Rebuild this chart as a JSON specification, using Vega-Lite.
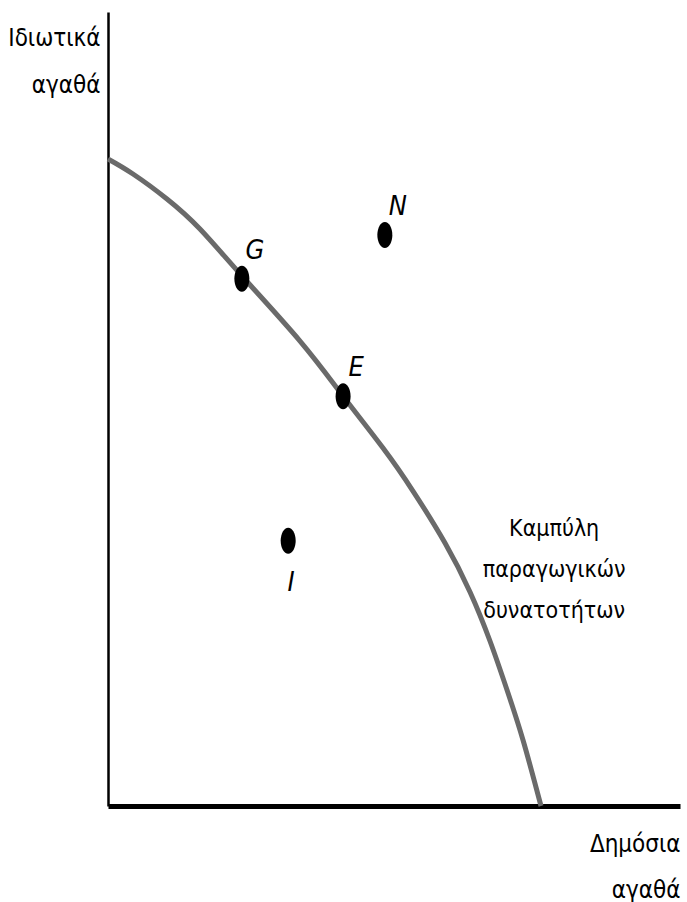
{
  "$schema": "https://vega.github.io/schema/vega-lite/v6.json",
  "autosize": {"type": "none"},
  "width": 572,
  "height": 794,
  "padding": {"left": 108, "top": 12, "right": 7, "bottom": 96},
  "background": "white",
  "config": {
    "view": {"stroke": null},
    "font": "DejaVu Sans Condensed, Liberation Sans, sans-serif"
  },
  "datasets": {
    "curve": [
      {"pub": 0, "priv": 81.49},
      {"pub": 4.37, "priv": 79.6},
      {"pub": 10.31, "priv": 76.45},
      {"pub": 16.08, "priv": 72.67},
      {"pub": 23.43, "priv": 66.75},
      {"pub": 33.57, "priv": 58.56},
      {"pub": 41.08, "priv": 51.64},
      {"pub": 48.08, "priv": 45.09},
      {"pub": 53.32, "priv": 39.67},
      {"pub": 58.92, "priv": 33.12},
      {"pub": 63.29, "priv": 26.95},
      {"pub": 66.78, "priv": 20.78},
      {"pub": 69.76, "priv": 14.61},
      {"pub": 72.55, "priv": 8.31},
      {"pub": 75.7, "priv": 0}
    ],
    "points": [
      {"label": "G", "pub": 23.4, "priv": 66.4},
      {"label": "N", "pub": 48.4, "priv": 71.9},
      {"label": "E", "pub": 41.1, "priv": 51.6},
      {"label": "I", "pub": 31.5, "priv": 33.4}
    ],
    "notes": [
      {"note": "Καμπύλη παραγωγικών δυνατοτήτων", "pub": 78.0, "priv": 34.0}
    ]
  },
  "encoding": {
    "x": {
      "field": "pub", "type": "quantitative",
      "scale": {"domain": [0, 100], "nice": false, "zero": false},
      "axis": {
        "domain": true, "domainColor": "black", "domainWidth": 5,
        "ticks": false, "labels": false, "grid": false,
        "title": ["Δημόσια", "αγαθά"],
        "titleX": 572, "titleY": 45,
        "titleAlign": "right", "titleBaseline": "alphabetic",
        "titleLineHeight": 46,
        "titleFont": "DejaVu Sans Condensed, Liberation Sans, sans-serif", "titleFontSize": 24,
        "titleFontWeight": "normal", "titleColor": "black"
      }
    },
    "y": {
      "field": "priv", "type": "quantitative",
      "scale": {"domain": [0, 100], "nice": false, "zero": false},
      "axis": {
        "domain": true, "domainColor": "black", "domainWidth": 2.5,
        "ticks": false, "labels": false, "grid": false,
        "title": ["Ιδιωτικά", "αγαθά"],
        "titleAngle": 0,
        "titleX": -8, "titleY": 33,
        "titleAlign": "right", "titleBaseline": "alphabetic",
        "titleLineHeight": 47,
        "titleFont": "DejaVu Sans Condensed, Liberation Sans, sans-serif", "titleFontSize": 24,
        "titleFontWeight": "normal", "titleColor": "black"
      }
    }
  },
  "layer": [
    {
      "data": {"name": "curve"},
      "mark": {"type": "line", "interpolate": "natural", "color": "#6a6a6a", "strokeWidth": 5, "clip": false}
    },
    {
      "data": {"name": "points"},
      "mark": {
        "type": "point", "filled": true, "color": "black", "opacity": 1, "size": 676,
        "shape": "M0,-1C0.319,-1,0.577,-0.552,0.577,0C0.577,0.552,0.319,1,0,1C-0.319,1,-0.577,0.552,-0.577,0C-0.577,-0.552,-0.319,-1,0,-1Z"
      }
    },
    {
      "data": {"name": "points"},
      "transform": [{"filter": "datum.label !== 'I'"}],
      "mark": {"type": "text", "font": "DejaVu Sans Condensed, Liberation Sans, sans-serif", "fontStyle": "italic", "fontSize": 27, "color": "black", "align": "center", "baseline": "middle", "dx": 13, "dy": -28},
      "encoding": {"text": {"field": "label"}}
    },
    {
      "data": {"name": "points"},
      "transform": [{"filter": "datum.label === 'I'"}],
      "mark": {"type": "text", "font": "DejaVu Sans Condensed, Liberation Sans, sans-serif", "fontStyle": "italic", "fontSize": 27, "color": "black", "align": "center", "baseline": "middle", "dx": 3, "dy": 42},
      "encoding": {"text": {"field": "label"}}
    },
    {
      "data": {"name": "notes"},
      "mark": {"type": "text", "font": "DejaVu Sans Condensed, Liberation Sans, sans-serif", "fontSize": 23, "color": "black", "align": "center", "baseline": "alphabetic", "lineHeight": 41,
        "text": ["Καμπύλη", "παραγωγικών", "δυνατοτήτων"]}
    }
  ]
}
